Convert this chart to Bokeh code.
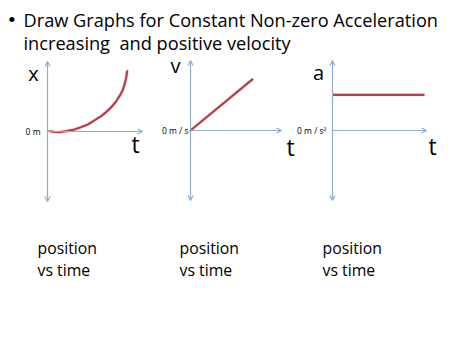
from bokeh.plotting import figure
from bokeh.models import Range1d, Arrow, OpenHead
from bokeh.core.properties import value
from bokeh.embed import file_html
from bokeh.resources import INLINE

# ---- data ----
title_lines = ["Draw Graphs for Constant Non-zero Acceleration", "increasing\u00a0 and positive velocity"]
axis_names = ["x", "v", "a"]
zero_labels = ["0 m", "0 m / s", "0 m / s\u00b2"]
caption_top = ["position", "position", "position"]
caption_bottom = ["vs time", "vs time", "vs time"]

time_axis_max = 10
value_axis = (-10, 10)

pos_t = [0.21, 0.7, 1.26, 2.0, 2.84, 3.5, 4.24, 4.9, 5.65, 6.2, 6.71, 7.2, 7.58, 7.9, 8.11, 8.27, 8.39]
pos_x = [0.04, -0.06, -0.1, 0.05, 0.29, 0.6, 1.0, 1.55, 2.19, 2.8, 3.47, 4.25, 5.04, 5.85, 6.71, 7.6, 8.61]
vel_t = [0.0, 6.8]
vel_v = [0.0, 7.3]
acc_t = [0.1, 9.7]
acc_a = [5.1, 5.1]

# ---- layout (page pixels) ----
W, H = 466, 347
X0, X1, Y0, Y1 = 0, W, 0, H
AXIS_COLOR = "#93ABCD"
RED = "#B2404A"
FONT = "Open Sans"

p = figure(width=W, height=H, x_range=Range1d(X0, X1), y_range=Range1d(Y1, Y0),
           output_backend="svg", toolbar_location=None, min_border=0,
           x_axis_location=None, y_axis_location=None, outline_line_color=None)
p.grid.visible = False
p.background_fill_color = "white"
p.border_fill_color = "white"

# panels: origin pixel (x, y), px per time unit, px per value unit
panels = [
    dict(ox=47, oy=131, sx=9.5, sy=7.0),
    dict(ox=190, oy=130, sx=9.1, sy=7.0),
    dict(ox=332, oy=130, sx=9.4, sy=7.0),
]
for i, pn in enumerate(panels):
    p.extra_x_ranges[f"t{i}"] = Range1d((X0 - pn["ox"]) / pn["sx"], (X1 - pn["ox"]) / pn["sx"])
    p.extra_y_ranges[f"v{i}"] = Range1d((pn["oy"] - Y1) / pn["sy"], (pn["oy"] - Y0) / pn["sy"])
    p.add_layout(Arrow(x_start=0, y_start=value_axis[0], x_end=0, y_end=value_axis[1],
                       x_range_name=f"t{i}", y_range_name=f"v{i}",
                       line_color=AXIS_COLOR, line_width=1.2,
                       start=OpenHead(size=5, line_color=AXIS_COLOR, line_width=1.2),
                       end=OpenHead(size=5, line_color=AXIS_COLOR, line_width=1.2)))
    p.add_layout(Arrow(x_start=0, y_start=0, x_end=time_axis_max, y_end=0,
                       x_range_name=f"t{i}", y_range_name=f"v{i}",
                       line_color=AXIS_COLOR, line_width=1.2,
                       end=OpenHead(size=5, line_color=AXIS_COLOR, line_width=1.2)))

series = [(pos_t, pos_x), (vel_t, vel_v), (acc_t, acc_a)]
for i, (tt, vv) in enumerate(series):
    p.line(tt, vv, x_range_name=f"t{i}", y_range_name=f"v{i}",
           line_color="#E9C4C6", line_width=3.4, line_alpha=0.5, line_cap="round", line_join="round")
    p.line(tt, vv, x_range_name=f"t{i}", y_range_name=f"v{i}",
           line_color=RED, line_width=2.2, line_cap="round", line_join="round")

# title
p.text(x=[8], y=[19], text=["\u2022"], text_font=value("Arial"), text_font_size="19px",
       text_baseline="middle", text_align="left", text_color="black")
p.text(x=[23, 23], y=[19, 42], text=title_lines, text_font=value(FONT), text_font_size="18.2px",
       text_baseline="middle", text_align="left", text_color="black")

# axis letters
p.text(x=[33, 175, 318], y=[73, 65, 72], text=axis_names, text_font=value(FONT),
       text_font_size="20px", text_baseline="middle", text_align="center", text_color="black")
p.text(x=[135, 290, 432], y=[143, 146, 145], text=["t", "t", "t"], text_font=value(FONT),
       text_font_size="23px", text_baseline="middle", text_align="center", text_color="black")
# zero labels
p.text(x=[40, 188, 326], y=[131, 130, 130], text=zero_labels, text_font=value(FONT),
       text_font_size="8.5px", text_baseline="middle", text_align="right", text_color="black")

# captions
cap_x = [37, 179, 322]
p.text(x=cap_x, y=[247] * 3, text=caption_top, text_font=value(FONT), text_font_size="15.8px",
       text_baseline="middle", text_align="left", text_color="black")
p.text(x=cap_x, y=[269] * 3, text=caption_bottom, text_font=value(FONT), text_font_size="15.8px",
       text_baseline="middle", text_align="left", text_color="black")

open("out.html", "w").write(file_html(p, INLINE))
